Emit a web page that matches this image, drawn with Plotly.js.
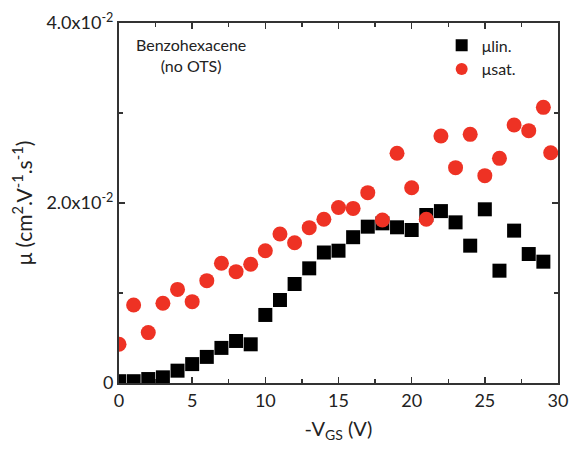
<!DOCTYPE html>
<html>
<head>
<meta charset="utf-8">
<script src="https://cdn.plot.ly/plotly-3.0.1.min.js"></script>
<style>html,body{margin:0;padding:0;background:#fff;}#chart{width:569px;height:450px;}</style>
</head>
<body>
<div id="chart"></div>
<script>
var vgsLin = [0,1,2,3,4,5,6,7,8,9,10,11,12,13,14,15,16,17,18,19,20,21,22,23,24,25,26,27,28,29];
var muLin = [0.0002,0.0002,0.00044,0.00063,0.00137,0.0021,0.0029,0.0039,0.00467,0.0043,0.00756,0.00922,0.011,0.01274,0.01450,0.0147,0.0162,0.01737,0.01774,0.0173,0.0170,0.01867,0.0191,0.01785,0.01526,0.0193,0.01248,0.01693,0.01433,0.01348];
var vgsSat = [0,1,2,3,4,5,6,7,8,9,10,11,12,13,14,15,16,17,18,19,20,21,22,23,24,25,26,27,28,29,29.5];
var muSat = [0.0043,0.00867,0.0056,0.00886,0.0104,0.00904,0.01137,0.0133,0.01237,0.01319,0.0147,0.01656,0.01559,0.01726,0.0182,0.0195,0.0194,0.02115,0.01811,0.02552,0.0217,0.01819,0.02744,0.02393,0.02763,0.02304,0.02496,0.02867,0.02804,0.03063,0.02559];
var yTickVals = [0, 0.02, 0.04];
var yTickText = ['0', '2.0x10<sup>-2</sup>', '4.0x10<sup>-2</sup>'];
var xTickVals = [0,5,10,15,20,25,30];

var font = 'Lato, "Open Sans", sans-serif';
var traces = [
  {x: vgsLin, y: muLin, type: 'scatter', mode: 'markers', name: 'μlin.',
   marker: {symbol: 'square', size: 14, color: '#000000'}},
  {x: vgsSat, y: muSat, type: 'scatter', mode: 'markers', name: 'μsat.',
   marker: {symbol: 'circle', size: 15, color: '#ee3224'}}
];
var axisCommon = {
  showgrid: false, zeroline: false, showline: true, linecolor: '#333', linewidth: 2,
  mirror: 'ticks', ticks: 'inside', ticklen: 6, tickwidth: 1.5, tickcolor: '#333',
  tickfont: {family: font, size: 18, color: '#222'}
};
var layout = {
  width: 569, height: 450,
  margin: {l: 119, r: 11, t: 23, b: 67},
  paper_bgcolor: '#ffffff', plot_bgcolor: '#ffffff',
  showlegend: true,
  legend: {x: 0.735, y: 0.985, xanchor: 'left', yanchor: 'top', bgcolor: 'rgba(0,0,0,0)',
           font: {family: font, size: 16, color: '#222'}, itemsizing: 'constant', tracegroupgap: 0},
  xaxis: Object.assign({}, axisCommon, {
    range: [0, 30], tickvals: xTickVals,
    minor: {dtick: 2.5, ticks: 'inside', ticklen: 4, tickcolor: '#333', tickwidth: 1.2},
    title: {text: '-V<sub>GS</sub> (V)', font: {family: font, size: 20, color: '#222'}, standoff: 12}
  }),
  yaxis: Object.assign({}, axisCommon, {
    range: [0, 0.04], tickvals: yTickVals, ticktext: yTickText,
    minor: {tickvals: [0.01, 0.03], ticks: 'inside', ticklen: 4, tickcolor: '#333', tickwidth: 1.2},
    title: {text: 'μ (cm<sup>2</sup>.V<sup>-1</sup>.s<sup>-1</sup>)', font: {family: font, size: 21, color: '#222'}, standoff: 8}
  }),
  annotations: [
    {xref: 'paper', yref: 'paper', x: 0.165, y: 0.912, text: 'Benzohexacene<br>(no OTS)', showarrow: false,
     xanchor: 'center', yanchor: 'middle', align: 'center', font: {family: font, size: 16, color: '#222'}}
  ]
};
Plotly.newPlot('chart', traces, layout, {displayModeBar: false, staticPlot: true});
</script>
</body>
</html>
